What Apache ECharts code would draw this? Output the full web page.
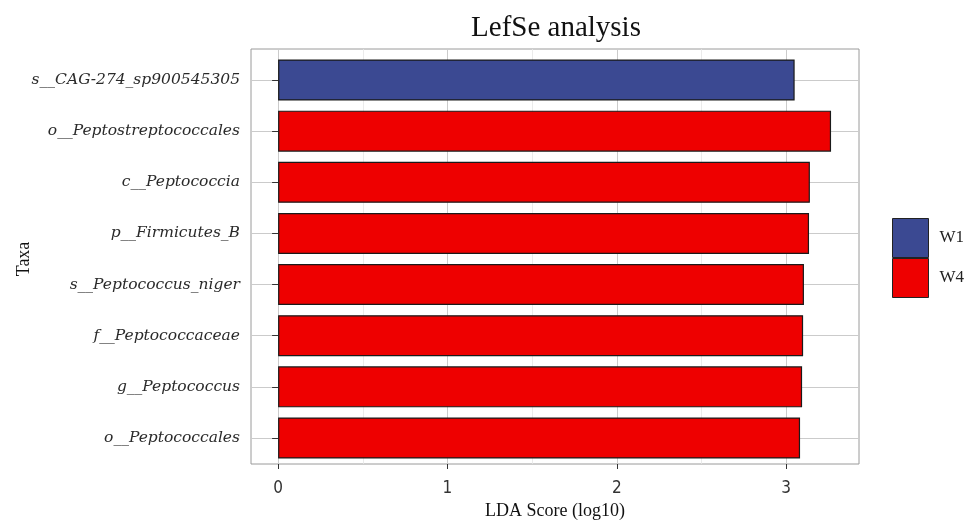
<!DOCTYPE html>
<html><head><meta charset="utf-8">
<script src="https://cdn.jsdelivr.net/npm/echarts@6/dist/echarts.min.js"></script>
<style>html,body{margin:0;padding:0;background:#fff}#c{width:968px;height:526px}</style>
</head><body><div id="c"></div>
<script>
const taxa = ['s__CAG-274_sp900545305','o__Peptostreptococcales','c__Peptococcia','p__Firmicutes_B','s__Peptococcus_niger','f__Peptococcaceae','g__Peptococcus','o__Peptococcales'];
const groups = ['W1','W4'];
const w1Scores = [3.05, null, null, null, null, null, null, null];
const w4Scores = [null, 3.265, 3.14, 3.135, 3.105, 3.10, 3.094, 3.082];
const xTicks = [0, 1, 2, 3];
const xMinorTicks = [0.5, 1.5, 2.5];
const xMin = -0.16, xMax = 3.43;

const serif = 'Liberation Serif';
const majorGrid = '#cbcbcb', minorGrid = '#e6e6e6';

const chart = echarts.init(document.getElementById('c'), null, {renderer: 'canvas'});
chart.setOption({
  backgroundColor: '#fff',
  animation: false,
  title: {text: 'LefSe analysis', left: 551, top: 9, textAlign: 'center',
    textStyle: {fontFamily: serif, fontSize: 29, fontWeight: 'normal', color: '#111'}},
  legend: {data: groups, orient: 'vertical', left: 892, top: 218, padding: 0, itemWidth: 36, itemHeight: 39, itemGap: 0,
    icon: 'rect', itemStyle: {borderColor: '#222', borderWidth: 1},
    textStyle: {fontFamily: serif, fontSize: 17, color: '#222', padding: [0, 0, 0, 6]}},
  grid: [
    {left: 251, right: 109, top: 49, bottom: 62, show: true, borderColor: '#9a9a9a', borderWidth: 1, backgroundColor: '#fff', outerBoundsMode: 'none'},
    {left: 251, right: 109, top: 80, bottom: 88, outerBoundsMode: 'none'}
  ],
  xAxis: [
    {gridIndex: 0, type: 'value', min: xMin, max: xMax,
      axisLine: {show: false}, splitLine: {show: false},
      axisTick: {show: true, length: 5, lineStyle: {color: '#333'}, customValues: xTicks},
      axisLabel: {customValues: xTicks, fontFamily: "'Liberation Sans Narrow', 'DejaVu Sans Condensed', 'Liberation Sans', sans-serif",
        fontSize: 17, color: '#333', margin: 16},
      name: 'LDA Score (log10)', nameLocation: 'middle', nameGap: 38,
      nameTextStyle: {fontFamily: serif, fontSize: 18, color: '#111'}},
    {gridIndex: 1, type: 'value', min: xMin, max: xMax, show: false}
  ],
  yAxis: [
    {gridIndex: 0, type: 'value', min: 0, max: 1, show: false},
    {gridIndex: 1, type: 'category', data: taxa, inverse: true, boundaryGap: false,
      axisLine: {show: false},
      axisTick: {show: true, length: 6, lineStyle: {color: '#333'}},
      axisLabel: {fontFamily: 'DejaVu Serif', fontStyle: 'italic', fontSize: 15.5, color: '#2a2a2a', margin: 11},
      splitLine: {show: true, lineStyle: {color: majorGrid, width: 1}},
      name: 'Taxa', nameLocation: 'middle', nameRotate: 90, nameGap: 218, nameMoveOverlap: false,
      nameTextStyle: {fontFamily: serif, fontSize: 18, color: '#111'}}
  ],
  series: [
    {type: 'line', xAxisIndex: 0, yAxisIndex: 0, data: [], silent: true, z: 1,
      markLine: {silent: true, symbol: 'none', z: 1, label: {show: false},
        data: xTicks.map(v => ({xAxis: v, lineStyle: {color: majorGrid, width: 1, type: 'solid'}}))
          .concat(xMinorTicks.map(v => ({xAxis: v, lineStyle: {color: minorGrid, width: 0.8, type: 'solid'}})))}},
    {name: 'W1', type: 'bar', xAxisIndex: 1, yAxisIndex: 1, stack: 'lda', data: w1Scores, barWidth: 41, clip: false, z: 3,
      itemStyle: {color: '#3B4992', borderColor: '#1a1a1a', borderWidth: 1.2}},
    {name: 'W4', type: 'bar', xAxisIndex: 1, yAxisIndex: 1, stack: 'lda', data: w4Scores, barWidth: 41, clip: false, z: 3,
      itemStyle: {color: '#EE0000', borderColor: '#1a1a1a', borderWidth: 1.2}}
  ]
});
</script></body></html>
